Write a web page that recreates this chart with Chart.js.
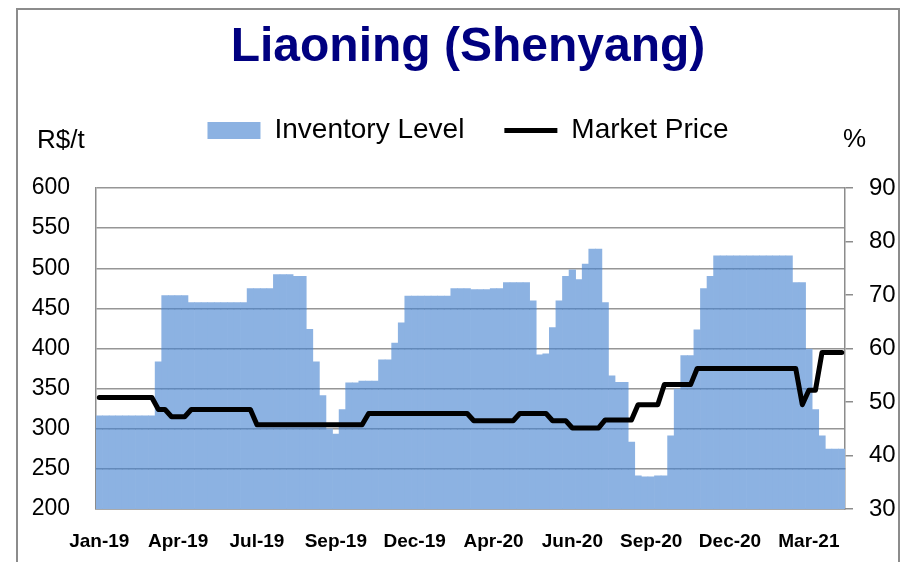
<!DOCTYPE html>
<html>
<head>
<meta charset="utf-8">
<title>Liaoning (Shenyang)</title>
<script src="https://cdn.jsdelivr.net/npm/chart.js@4.4.1/dist/chart.umd.min.js"></script>
<style>
  html, body { margin: 0; padding: 0; background: #fff; overflow: hidden; }
  #wrap { position: relative; width: 914px; height: 562px; }
  #frame { position: absolute; left: 16px; top: 8px; width: 884px; height: 600px;
           box-sizing: border-box; border: 2px solid #8c8c8c; pointer-events: none; }
</style>
</head>
<body>
<div id="wrap">
  <canvas id="chart" width="914" height="562"></canvas>
  <div id="frame"></div>
</div>
<script>
// weekly values, Jan-19 .. Apr-21
var tickLabels = ['Jan-19', 'Apr-19', 'Jul-19', 'Sep-19', 'Dec-19', 'Apr-20', 'Jun-20', 'Sep-20', 'Dec-20', 'Mar-21'];

// Inventory Level, % (right axis)
var inventory = [
  47.4, 47.4, 47.4, 47.4, 47.4, 47.4, 47.4, 47.4, 47.4,
  57.5, 69.9, 69.9, 69.9, 69.9,
  68.6, 68.6, 68.6, 68.6, 68.6, 68.6, 68.6, 68.6, 68.6,
  71.2, 71.2, 71.2, 71.2, 73.8, 73.8, 73.8, 73.5, 73.5,
  63.6, 57.5, 51.2, 45.0, 44.0, 48.6, 53.6, 53.6,
  53.9, 53.9, 53.9, 57.9, 57.9, 61.0, 64.8,
  69.8, 69.8, 69.8, 69.8, 69.8, 69.8, 69.8,
  71.2, 71.2, 71.2, 71.0, 71.0, 71.0, 71.2, 71.2,
  72.3, 72.3, 72.3, 72.3, 68.9, 58.8, 59.0, 63.9,
  68.9, 73.5, 74.7, 72.9, 75.8, 78.6, 78.6, 68.6,
  54.9, 53.7, 53.7, 42.5, 36.2, 36.0, 36.0, 36.2, 36.2,
  43.7, 52.4, 58.7, 58.7, 63.5, 71.2, 73.5,
  77.3, 77.3, 77.3, 77.3, 77.3, 77.3, 77.3, 77.3, 77.3, 77.3, 77.3, 77.3,
  72.3, 72.3, 59.9, 48.6, 43.7, 41.2, 41.2, 41.2
];

// Market Price, R$/t (left axis)
var price = [
  339, 339, 339, 339, 339, 339, 339, 339, 339,
  324, 324, 315, 315, 315,
  324, 324, 324, 324, 324, 324, 324, 324, 324, 324,
  305, 305, 305, 305, 305, 305, 305, 305, 305, 305, 305, 305, 305, 305, 305, 305, 305,
  319, 319, 319, 319, 319, 319, 319, 319, 319, 319, 319, 319, 319, 319, 319, 319,
  310, 310, 310, 310, 310, 310, 310,
  319, 319, 319, 319, 319,
  310, 310, 310,
  301, 301, 301, 301, 301,
  311, 311, 311, 311, 311,
  330, 330, 330, 330,
  355, 355, 355, 355, 355,
  375, 375, 375, 375, 375, 375, 375, 375, 375, 375, 375, 375, 375, 375, 375, 375,
  330, 348, 348,
  395, 395, 395, 395
];

// one category per week, a label every 12 weeks
var categories = inventory.map(function(v, i) {
  return i % 12 === 0 ? tickLabels[i / 12] : '';
});

Chart.defaults.font.family = '"Liberation Sans", Arial, sans-serif';
Chart.defaults.color = '#000';

var grey = '#8c8c8c';

// gridlines show through the columns as a darker blue
var gridThroughBars = {
  id: 'gridThroughBars',
  afterDatasetDraw: function(chart, args) {
    if (args.index !== 0) return;
    var ctx = chart.ctx, y = chart.scales.y, area = chart.chartArea;
    ctx.save();
    ctx.fillStyle = 'rgb(100,138,186)';
    y.ticks.forEach(function(t, i) {
      var gy = y.getPixelForTick(i);
      if (gy >= area.bottom - 1) return;
      var top = Math.round(gy - 0.75);
      args.meta.data.forEach(function(bar) {
        if (bar.y < top) ctx.fillRect(bar.x - bar.width / 2 - 0.4, top, bar.width + 0.8, 1.5);
      });
    });
    ctx.restore();
  }
};

var axisUnits = {
  id: 'axisUnits',
  afterDraw: function(chart) {
    var ctx = chart.ctx;
    ctx.save();
    ctx.font = '26px "Liberation Sans", Arial, sans-serif';
    ctx.fillStyle = '#000';
    ctx.textBaseline = 'middle';
    ctx.textAlign = 'left';
    ctx.fillText('R$/t', 37, 141);
    ctx.fillText('%', 843, 140);
    ctx.restore();
  }
};

var ctx = document.getElementById('chart').getContext('2d');
var chart = new Chart(ctx, {
  type: 'bar',
  data: {
    labels: categories,
    datasets: [{
      type: 'bar',
      label: 'Inventory Level',
      data: inventory,
      yAxisID: 'y1',
      backgroundColor: '#8cb2e2',
      borderWidth: 0,
      barPercentage: 1,
      categoryPercentage: 1,
      pointStyle: 'rect',
      order: 2
    }, {
      type: 'line',
      label: 'Market Price',
      data: price,
      yAxisID: 'y',
      borderColor: '#000',
      backgroundColor: '#000',
      borderWidth: 5,
      borderJoinStyle: 'round',
      borderCapStyle: 'round',
      tension: 0,
      pointRadius: 0,
      pointStyle: 'line',
      pointBorderWidth: 5,
      pointBorderColor: '#000',
      order: 1
    }]
  },
  options: {
    responsive: false,
    animation: false,
    layout: { padding: { left: 22, right: 0, top: 0, bottom: 0 } },
    plugins: {
      title: {
        display: true,
        text: 'Liaoning (Shenyang)',
        color: '#000080',
        font: { size: 48, weight: 'bold', lineHeight: 1.2 },
        padding: { top: 19, bottom: 0 }
      },
      legend: {
        display: true,
        position: 'top',
        labels: {
          usePointStyle: true,
          pointStyleWidth: 53,
          boxHeight: 17,
          padding: 40,
          color: '#000',
          font: { size: 28 },
          sort: function(a, b) { return a.datasetIndex - b.datasetIndex; }
        }
      },
      // empty spacer row between legend and plot
      subtitle: {
        display: true,
        text: '',
        weight: 900,
        font: { size: 10, lineHeight: 1 },
        padding: { top: 23.4, bottom: 0 }
      },
      tooltip: { enabled: false }
    },
    scales: {
      x: {
        type: 'category',
        offset: true,
        grid: { display: false, drawTicks: false },
        border: { display: true, color: grey, width: 1.5 },
        ticks: {
          autoSkip: false,
          minRotation: 0,
          maxRotation: 0,
          padding: 21,
          color: '#000',
          font: { size: 19, weight: 'bold' }
        },
        afterFit: function(scale) { scale.height = 53; }
      },
      y: {
        position: 'left',
        min: 200,
        max: 600,
        ticks: { stepSize: 50, padding: 26, color: '#000', font: { size: 23 } },
        grid: { color: '#969696', lineWidth: 1.5, drawTicks: false },
        border: { display: true, color: grey, width: 1.5 },
        afterFit: function(scale) { scale.width = 74; }
      },
      y1: {
        position: 'right',
        min: 30,
        max: 90,
        ticks: { stepSize: 10, padding: 16, color: '#000', font: { size: 24 } },
        grid: { drawOnChartArea: false, drawTicks: true, tickLength: 8, color: grey, lineWidth: 1.5 },
        border: { display: true, color: grey, width: 1.5 },
        afterFit: function(scale) { scale.width = 69; }
      }
    }
  },
  plugins: [gridThroughBars, axisUnits]
});
</script>
</body>
</html>
